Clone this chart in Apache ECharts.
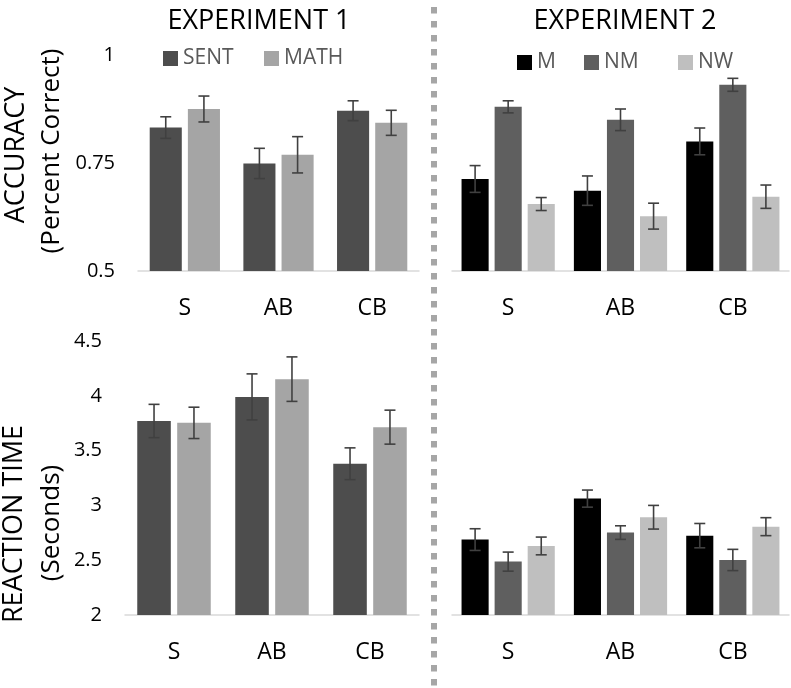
<!DOCTYPE html>
<html>
<head>
<meta charset="utf-8">
<script src="https://cdn.jsdelivr.net/npm/echarts@6/dist/echarts.min.js"></script>
<style>html,body{margin:0;padding:0;background:#fff}#c{width:791px;height:688px}</style>
</head>
<body>
<div id="c"></div>
<script>
// ---- data ----
var categories = ['S', 'AB', 'CB'];
// Experiment 1 accuracy
var acc1Sent = [0.832, 0.749, 0.871];
var acc1SentErr = [0.025, 0.035, 0.023];
var acc1Math = [0.875, 0.769, 0.843];
var acc1MathErr = [0.030, 0.042, 0.029];
// Experiment 2 accuracy
var acc2M = [0.713, 0.686, 0.800];
var acc2MErr = [0.031, 0.034, 0.031];
var acc2NM = [0.880, 0.850, 0.931];
var acc2NMErr = [0.014, 0.025, 0.015];
var acc2NW = [0.655, 0.627, 0.672];
var acc2NWErr = [0.015, 0.030, 0.027];
// Experiment 1 reaction time
var rt1Sent = [3.77, 3.99, 3.38];
var rt1SentErr = [0.152, 0.21, 0.145];
var rt1Math = [3.753, 4.152, 3.714];
var rt1MathErr = [0.143, 0.203, 0.155];
// Experiment 2 reaction time
var rt2M = [2.688, 3.062, 2.724];
var rt2MErr = [0.099, 0.078, 0.111];
var rt2NM = [2.487, 2.752, 2.502];
var rt2NMErr = [0.087, 0.062, 0.097];
var rt2NW = [2.630, 2.892, 2.806];
var rt2NWErr = [0.081, 0.108, 0.082];

var accTicks = {min: 0.5, max: 1, interval: 0.25};
var rtTicks = {min: 2, max: 4.5, interval: 0.5};

// ---- styles ----
var FONT = 'Open Sans';
var C_SENT = '#4d4d4d', C_MATH = '#a5a5a5';
var C_M = '#000000', C_NM = '#5f5f5f', C_NW = '#bfbfbf';
var GAP1 = '25%', BGAP1 = '19%';
var GAP2 = '17%', BGAP2 = '22%';

function errRender(n, k, gap, bgap) {
  return function (params, api) {
    var cat = api.value(0), lo = api.value(1), hi = api.value(2);
    var p = api.coord([cat, hi]);
    var q = api.coord([cat, lo]);
    var B = api.size([1, 0])[0];
    var inner = B * (1 - gap);
    var w = inner / (n + (n - 1) * bgap);
    var x = p[0] - inner / 2 + k * w * (1 + bgap) + w / 2;
    var cw = 5.5;
    var st = {stroke: '#404040', lineWidth: 1.6};
    return {type: 'group', children: [
      {type: 'line', shape: {x1: x, y1: p[1], x2: x, y2: q[1]}, style: st},
      {type: 'line', shape: {x1: x - cw, y1: p[1], x2: x + cw, y2: p[1]}, style: st},
      {type: 'line', shape: {x1: x - cw, y1: q[1], x2: x + cw, y2: q[1]}, style: st}
    ]};
  };
}
function errData(vals, errs) {
  return vals.map(function (v, i) { return [i, v - errs[i], v + errs[i]]; });
}

var grids = [
  {left: 138, width: 281, top: 55, height: 216},
  {left: 452, width: 337, top: 55, height: 216},
  {left: 125, width: 294, top: 341, height: 274},
  {left: 452, width: 337, top: 341, height: 274}
];

var xAxes = grids.map(function (g, i) {
  return {
    type: 'category', gridIndex: i, data: categories,
    axisLine: {lineStyle: {color: '#d9d9d9', width: 1.5}},
    axisTick: {show: false},
    axisLabel: {color: '#000', fontSize: 23, fontFamily: FONT, margin: 26}
  };
});
var yAxes = grids.map(function (g, i) {
  var t = i < 2 ? accTicks : rtTicks;
  return {
    type: 'value', gridIndex: i, min: t.min, max: t.max, interval: t.interval,
    axisLine: {show: false}, axisTick: {show: false}, splitLine: {show: false},
    axisLabel: {show: i % 2 === 0, color: '#000', fontSize: 20, fontFamily: FONT, margin: 23}
  };
});

function bar(name, idx, data, color, gap, bgap) {
  return {type: 'bar', name: name, xAxisIndex: idx, yAxisIndex: idx, data: data,
    itemStyle: {color: color}, barCategoryGap: gap, barGap: bgap, silent: true};
}
function err(idx, n, k, vals, errs, gap, bgap) {
  return {type: 'custom', xAxisIndex: idx, yAxisIndex: idx, data: errData(vals, errs),
    encode: {x: 0, y: [1, 2]}, renderItem: errRender(n, k, gap, bgap), silent: true, z: 5};
}
var g1 = 0.25, b1 = 0.19, g2 = 0.17, b2 = 0.22;

var series = [
  bar('SENT', 0, acc1Sent, C_SENT, GAP1, BGAP1),
  bar('MATH', 0, acc1Math, C_MATH, GAP1, BGAP1),
  bar('M', 1, acc2M, C_M, GAP2, BGAP2),
  bar('NM', 1, acc2NM, C_NM, GAP2, BGAP2),
  bar('NW', 1, acc2NW, C_NW, GAP2, BGAP2),
  bar('SENT', 2, rt1Sent, C_SENT, GAP1, BGAP1),
  bar('MATH', 2, rt1Math, C_MATH, GAP1, BGAP1),
  bar('M', 3, rt2M, C_M, GAP2, BGAP2),
  bar('NM', 3, rt2NM, C_NM, GAP2, BGAP2),
  bar('NW', 3, rt2NW, C_NW, GAP2, BGAP2),
  err(0, 2, 0, acc1Sent, acc1SentErr, g1, b1),
  err(0, 2, 1, acc1Math, acc1MathErr, g1, b1),
  err(1, 3, 0, acc2M, acc2MErr, g2, b2),
  err(1, 3, 1, acc2NM, acc2NMErr, g2, b2),
  err(1, 3, 2, acc2NW, acc2NWErr, g2, b2),
  err(2, 2, 0, rt1Sent, rt1SentErr, g1, b1),
  err(2, 2, 1, rt1Math, rt1MathErr, g1, b1),
  err(3, 3, 0, rt2M, rt2MErr, g2, b2),
  err(3, 3, 1, rt2NM, rt2NMErr, g2, b2),
  err(3, 3, 2, rt2NW, rt2NWErr, g2, b2)
];

function rotText(text, x, y, size) {
  return {type: 'text', x: x, y: y, rotation: Math.PI / 2,
    style: {text: text, fill: '#000', font: size + 'px "' + FONT + '"', textAlign: 'center', textVerticalAlign: 'middle'}};
}
function leg(name, left, top) {
  return {data: [name], left: left, top: top, icon: 'rect', itemWidth: 15, itemHeight: 15,
    textStyle: {color: '#595959', fontSize: 21, fontFamily: FONT}, selectedMode: false, padding: 0};
}

var option = {
  animation: false,
  backgroundColor: '#fff',
  grid: grids,
  xAxis: xAxes,
  yAxis: yAxes,
  legend: [
    leg('SENT', 163, 48),
    leg('MATH', 264, 48),
    leg('M', 517, 52),
    leg('NM', 584, 52),
    leg('NW', 678, 52)
  ],
  graphic: [
    {type: 'line', shape: {x1: 434, y1: 7, x2: 434, y2: 688}, style: {stroke: '#a6a6a6', lineWidth: 6, lineDash: [6.5, 7.5]}, silent: true},
    {type: 'text', x: 259, y: 21, style: {text: 'EXPERIMENT 1', fill: '#000', font: '27px "' + FONT + '"', textAlign: 'center', textVerticalAlign: 'middle'}},
    {type: 'text', x: 625, y: 21, style: {text: 'EXPERIMENT 2', fill: '#000', font: '27px "' + FONT + '"', textAlign: 'center', textVerticalAlign: 'middle'}},
    rotText('ACCURACY', 16, 155, 27),
    rotText('(Percent Correct)', 52, 151, 26),
    rotText('REACTION TIME', 14, 524, 27),
    rotText('(Seconds)', 52, 523, 26)
  ],
  series: series
};
var chart = echarts.init(document.getElementById('c'), null, {renderer: 'canvas'});
chart.setOption(option);
</script>
</body>
</html>
